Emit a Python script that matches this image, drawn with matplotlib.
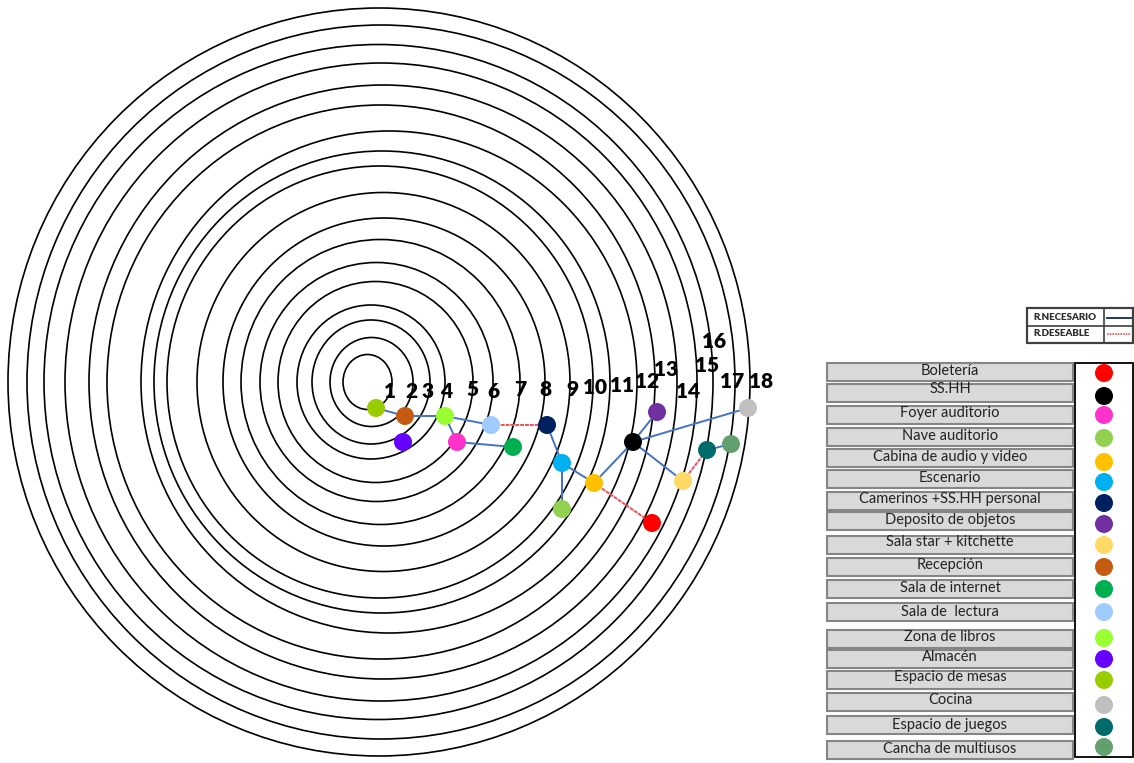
import matplotlib.pyplot as plt
from matplotlib.patches import Ellipse, Rectangle

# zones (legend order) and their colours
spaces = ["Boletería", "SS.HH", "Foyer auditorio", "Nave auditorio",
          "Cabina de audio y video", "Escenario", "Camerinos +SS.HH personal",
          "Deposito de objetos", "Sala star + kitchette", "Recepción",
          "Sala de internet", "Sala de  lectura", "Zona de libros", "Almacén",
          "Espacio de mesas", "Cocina", "Espacio de juegos", "Cancha de multiusos"]
colors = ["#ff0000", "#000000", "#ff33cc", "#92d050", "#ffc000", "#00b0f0",
          "#002060", "#7030a0", "#ffd966", "#c55a11", "#00b050", "#9fcbff",
          "#99ff33", "#6600ff", "#99cc00", "#bfbfbf", "#006b6b", "#62a070"]

# node positions
node_x = [652, 633, 457, 562, 594, 562, 547, 657, 683, 405, 513, 491, 445, 403, 376, 748, 707, 731]
node_y = [523, 442, 442, 509, 483, 463, 425, 412, 481, 416, 447, 425, 416, 442, 408, 408, 450, 444]

# relations: (from, to)
necesario = [("Espacio de mesas", "Recepción"), ("Recepción", "Zona de libros"),
             ("Zona de libros", "Sala de  lectura"), ("Zona de libros", "Foyer auditorio"),
             ("Foyer auditorio", "Sala de internet"), ("Camerinos +SS.HH personal", "Escenario"),
             ("Escenario", "Cabina de audio y video"), ("Escenario", "Nave auditorio"),
             ("Cabina de audio y video", "SS.HH"), ("SS.HH", "Deposito de objetos"),
             ("SS.HH", "Cocina"), ("SS.HH", "Sala star + kitchette"),
             ("Espacio de juegos", "Cancha de multiusos")]
deseable = [("Sala de  lectura", "Camerinos +SS.HH personal"),
            ("Cabina de audio y video", "Boletería"),
            ("Sala star + kitchette", "Espacio de juegos")]

# rings 1..18, left / right extents
ring_left = [343, 330, 312, 297, 278, 260, 241, 223, 197, 167, 154, 141, 107, 89, 65, 44, 27, 8]
ring_right = [392, 413, 430, 445, 473, 493, 520, 545, 570, 593, 610, 637, 655, 677, 697, 713, 735, 750]
ring_labels = [str(i) for i in range(1, 19)]

# layout
label_x = [390, 411, 428, 446, 472, 493, 520, 545, 572, 595, 622, 647, 666, 688, 707, 714, 732, 761]
label_y = [392, 392, 392, 392, 390, 392, 390, 390, 389, 388, 385, 382, 370, 391, 365, 341, 382, 381]
row_top = [363, 384, 406, 428, 449, 470, 492, 512, 536, 558, 580, 603, 630, 650, 671, 693, 716, 741]
text_y = [371, 389, 413, 436, 457, 478, 499, 520, 542, 565, 588, 612, 637, 657, 677, 700, 725, 749]
dot_y = [373, 396, 415, 438, 462, 482, 503, 524, 545, 567, 589, 612, 638, 659, 680, 705, 727, 747]

blue = "#4472c4"
red = "#f0505a"

fig = plt.figure(figsize=(11.34, 7.63), dpi=100)
ax = fig.add_axes([0, 0, 1, 1])
ax.set_xlim(0, 1134)
ax.set_ylim(763, 0)
ax.axis("off")

# concentric rings
for l, r in zip(ring_left, ring_right):
    ax.add_patch(Ellipse(((l + r) / 2, 382), r - l, r - l + 6,
                         fill=False, edgecolor="black", linewidth=1.2, zorder=1))

for i, lab in enumerate(ring_labels):
    ax.text(label_x[i], label_y[i], lab, ha="center", va="center",
            fontsize=15, fontweight="heavy", family="Lato", zorder=5)

idx = {name: i for i, name in enumerate(spaces)}
for a, b in necesario:
    ax.plot([node_x[idx[a]], node_x[idx[b]]], [node_y[idx[a]], node_y[idx[b]]],
            color=blue, linewidth=1.4, zorder=2)
for a, b in deseable:
    ax.plot([node_x[idx[a]], node_x[idx[b]]], [node_y[idx[a]], node_y[idx[b]]],
            color=red, linewidth=1.4, linestyle=(0, (2, 0.5)), zorder=2)

ax.scatter(node_x, node_y, s=168, c=colors, edgecolors="none", zorder=3)

# legend table
for i, name in enumerate(spaces):
    ax.add_patch(Rectangle((827, row_top[i]), 246, 18, facecolor="#d9d9d9",
                           edgecolor="#858585", linewidth=1.5, zorder=1))
    ax.text(950, text_y[i], name, ha="center", va="center",
            fontsize=10.5, family="Lato", color="#222222", zorder=2)

ax.add_patch(Rectangle((1075, 363), 58, 394, facecolor="white",
                       edgecolor="black", linewidth=1.3, zorder=1))
ax.scatter([1104] * len(spaces), dot_y, s=168, c=colors, edgecolors="none", zorder=3)

# line-type key
ax.add_patch(Rectangle((1027, 308), 106, 35, facecolor="white",
                       edgecolor="#404040", linewidth=1.6, zorder=1))
ax.plot([1027, 1133], [326, 326], color="#404040", linewidth=1.2)
ax.plot([1104, 1104], [308, 343], color="#404040", linewidth=1.2)
ax.text(1033, 318, "R.NECESARIO", ha="left", va="center", fontsize=7,
        fontweight="heavy", family="Lato", color="#2f2f2f")
ax.text(1033, 334, "R.DESEABLE", ha="left", va="center", fontsize=7,
        fontweight="heavy", family="Lato", color="#2f2f2f")
ax.plot([1107, 1131], [318, 318], color="#1f3864", linewidth=1.4)
ax.plot([1107, 1131], [334, 334], color=red, linewidth=1.2, linestyle=(0, (1, 0.6)))

fig.savefig("out.png", dpi=100)
plt.close(fig)
